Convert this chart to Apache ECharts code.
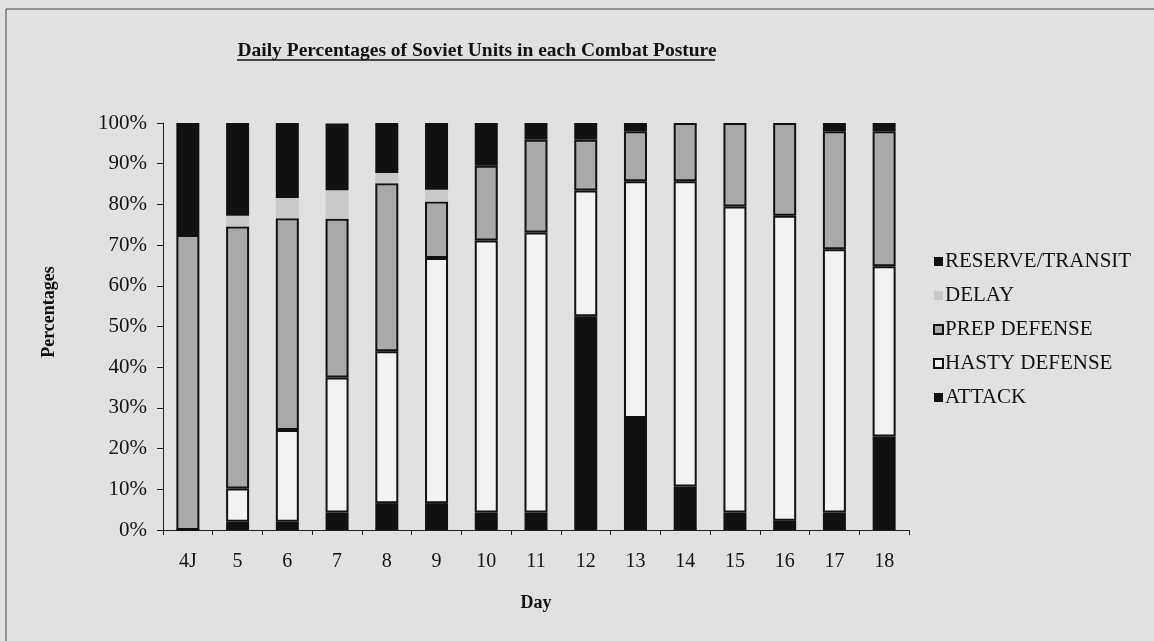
<!DOCTYPE html>
<html>
<head>
<meta charset="utf-8">
<script src="https://cdn.jsdelivr.net/npm/echarts@6/dist/echarts.min.js"></script>
<style>
html,body{margin:0;padding:0;background:#e0e2e1;}
#c{width:1154px;height:641px;}
</style>
</head>
<body>
<div id="c"></div>
<script>
const days = ['4J','5','6','7','8','9','10','11','12','13','14','15','16','17','18'];
const attack  = [0, 2, 2, 4.3, 6.6, 6.6, 4.3, 4.3, 52.5, 27.5, 10.7, 4.3, 2.3, 4.3, 23];
const hasty   = [0, 8.2, 22.6, 33.2, 37.3, 60.2, 66.8, 68.8, 30.9, 58.2, 75, 75.2, 74.9, 64.7, 41.8];
const prep    = [72.5, 64.4, 52, 39, 41.3, 13.9, 18.4, 22.8, 12.5, 12.3, 14.3, 20.5, 22.8, 29, 33.2];
const delay   = [0, 2.6, 5, 7, 2.5, 2.9, 0, 0, 0, 0, 0, 0, 0, 0, 0];
const reserve = [27.5, 22.8, 18.5, 16.4, 12.3, 16.4, 10.5, 4.1, 4.1, 2, 0, 0, 0, 2, 2];
const yTicks = ['0%','10%','20%','30%','40%','50%','60%','70%','80%','90%','100%'];

const serif = '"Liberation Serif", "DejaVu Serif", serif';
const chart = echarts.init(document.getElementById('c'));
const barW = 23;
function ser(name, data, color, border) {
  return {
    name: name, type: 'bar', stack: 'all', data: data, barWidth: barW,
    itemStyle: { color: color, borderColor: border ? '#111' : color, borderWidth: border ? 2 : 0 }
  };
}
chart.setOption({
  backgroundColor: '#e0e2e1',
  animation: false,
  title: {
    text: 'Daily Percentages of Soviet Units in each Combat Posture',
    left: 472, top: 36, textAlign: 'center',
    textStyle: { fontFamily: serif, fontSize: 19.5, fontWeight: 'bold', color: '#111' }
  },
  graphic: [
    { type: 'line', shape: { x1: 6, y1: 9, x2: 1154, y2: 9 }, style: { stroke: '#444', lineWidth: 1 } },
    { type: 'line', shape: { x1: 6, y1: 9, x2: 6, y2: 641 }, style: { stroke: '#444', lineWidth: 1 } },
    { type: 'line', shape: { x1: 237, y1: 60, x2: 715, y2: 60 }, style: { stroke: '#111', lineWidth: 1.5 } },
    { type: 'text', x: 49, y: 312, rotation: Math.PI / 2,
      style: { text: 'Percentages', fontFamily: serif, fontSize: 18, fontWeight: 'bold', fill: '#111',
               textAlign: 'center', textVerticalAlign: 'middle' } }
  ],
  legend: {
    orient: 'vertical', left: 928, top: 246, itemGap: 13,
    itemWidth: 9, itemHeight: 9, icon: 'rect',
    data: ['RESERVE/TRANSIT','DELAY','PREP DEFENSE','HASTY DEFENSE','ATTACK'],
    textStyle: { fontFamily: serif, fontSize: 21, lineHeight: 21, color: '#111', padding: [0,0,0,-3] }
  },
  grid: { left: 163, right: 245, top: 123, bottom: 111 },
  xAxis: {
    type: 'category', data: days,
    name: 'Day', nameLocation: 'middle', nameGap: 64,
    nameTextStyle: { fontFamily: serif, fontSize: 18, fontWeight: 'bold', color: '#111' },
    axisLine: { lineStyle: { color: '#222', width: 1 } },
    axisTick: { show: true, length: 5, alignWithLabel: false, lineStyle: { color: '#222' } },
    axisLabel: { fontFamily: serif, fontSize: 20, color: '#111', margin: 22 }
  },
  yAxis: {
    type: 'value', min: 0, max: 100, interval: 10,
    axisLine: { show: true, lineStyle: { color: '#222', width: 1 } },
    axisTick: { show: true, length: 6, lineStyle: { color: '#222' } },
    splitLine: { show: false },
    axisLabel: { fontFamily: serif, fontSize: 21, color: '#111', margin: 16,
      formatter: function (v) { return yTicks[Math.round(v / 10)]; } }
  },
  series: [
    ser('ATTACK', attack, '#111111', false),
    ser('HASTY DEFENSE', hasty, '#f2f2f2', true),
    ser('PREP DEFENSE', prep, '#a9a9a9', true),
    ser('DELAY', delay, '#c9c9c9', false),
    ser('RESERVE/TRANSIT', reserve, '#111111', false)
  ]
});
</script>
</body>
</html>
